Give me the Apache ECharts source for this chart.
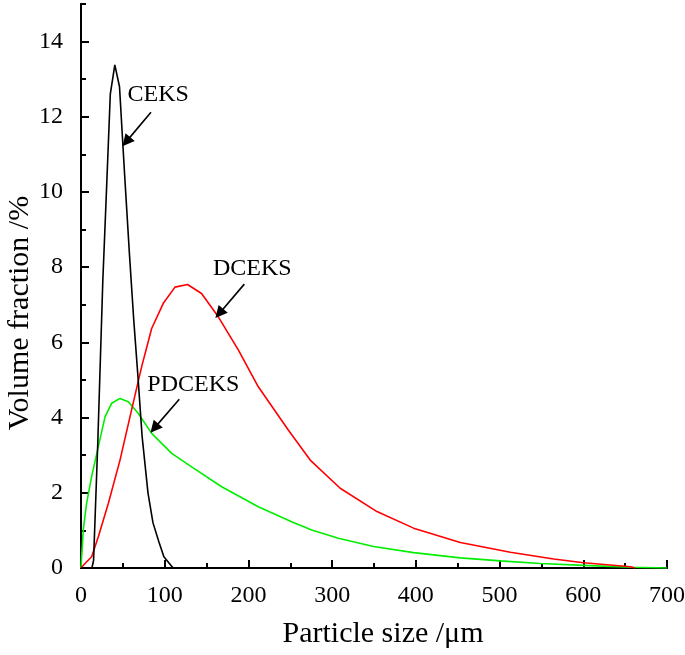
<!DOCTYPE html>
<html>
<head>
<meta charset="utf-8">
<script src="https://cdn.jsdelivr.net/npm/echarts@6/dist/echarts.min.js"></script>
<style>html,body{margin:0;padding:0;background:#fff;}#c{width:685px;height:655px;}</style>
</head>
<body>
<div id="c"></div>
<script>
// Data
const ceksX = [0, 13, 15, 20, 26, 30, 35, 40.4, 46, 52, 58, 63, 68, 73, 80, 86, 93, 99, 110];
const ceksY = [0, 0, 0.2, 3.3, 7.6, 9.8, 12.6, 13.38, 12.8, 10.5, 8.3, 6.6, 5.1, 3.5, 2.0, 1.2, 0.7, 0.3, 0];

const dceksX = [0, 4.8, 12.7, 20.7, 32.7, 46.6, 58.5, 72.4, 84.4, 98.3, 112.3, 127.3, 144, 164, 187.9, 211.8, 247.6, 273.8, 309.6, 353.5, 397.3, 453.1, 512.9, 564.6, 600.4, 656.5, 662];
const dceksY = [0, 0.12, 0.3, 0.83, 1.72, 2.87, 4.02, 5.35, 6.37, 7.04, 7.47, 7.54, 7.3, 6.68, 5.8, 4.82, 3.67, 2.87, 2.12, 1.5, 1.06, 0.68, 0.42, 0.24, 0.14, 0.035, 0];

const pdceksX = [0, 2.7, 6.7, 12.7, 20.7, 28.7, 36.6, 46.6, 56.5, 68.5, 84.4, 108.3, 132.2, 168, 211.8, 251.6, 275.5, 307.4, 349.5, 397.3, 453.1, 500.9, 548.6, 600.4, 656.5, 700];
const pdceksY = [0, 1.01, 1.72, 2.43, 3.23, 4.02, 4.38, 4.51, 4.42, 4.11, 3.58, 3.05, 2.69, 2.16, 1.63, 1.23, 1.01, 0.79, 0.57, 0.41, 0.27, 0.19, 0.12, 0.07, 0.02, 0];

const seriesNames = ['CEKS', 'DCEKS', 'PDCEKS'];
// annotation label anchor (data coords) and arrow start/end (data coords)
const labelPos = [[92.3, 12.58], [204.6, 7.97], [134.2, 4.87]];
const arrowFrom = [[83.6, 12.12], [195.1, 7.55], [117.4, 4.49]];
const arrowTo = [[54.1, 11.34], [165.2, 6.77], [87.6, 3.72]];

const xTitle = 'Particle size /\u03bcm';
const yTitle = 'Volume fraction /%';

const FONT = '"Liberation Serif", "Times New Roman", serif';
const colors = ['#000000', '#ff0000', '#00ee00'];
const xs = [ceksX, dceksX, pdceksX];
const ys = [ceksY, dceksY, pdceksY];

const chart = echarts.init(document.getElementById('c'), null, {renderer: 'canvas'});

const series = seriesNames.map((name, i) => ({
  name: name,
  type: 'line',
  data: xs[i].map((x, k) => [x, ys[i][k]]),
  showSymbol: false,
  symbol: 'none',
  lineStyle: {color: colors[i], width: 1.6},
  itemStyle: {color: colors[i]},
  silent: true,
  animation: false,
  z: 3 - i,
  markPoint: {
    symbol: 'rect', symbolSize: 1,
    itemStyle: {color: 'rgba(0,0,0,0)'},
    silent: true, animation: false,
    label: {show: true, position: 'inside', color: '#000', fontFamily: FONT, fontSize: 24, formatter: name},
    data: [{coord: labelPos[i]}]
  },
  markLine: {
    silent: true, animation: false,
    symbol: ['none', 'triangle'],
    symbolSize: 12,
    label: {show: false},
    itemStyle: {color: '#000'},
    lineStyle: {color: '#000', width: 1.6, type: 'solid'},
    data: [[{coord: arrowFrom[i]}, {coord: arrowTo[i]}]]
  }
}));

const tickStyle = {color: '#000', width: 2};

chart.setOption({
  animation: false,
  backgroundColor: '#fff',
  grid: {left: 81, right: 18, top: 4, bottom: 87, containLabel: false, outerBoundsMode: 'none'},
  xAxis: [{
    type: 'value', min: 0, max: 700, interval: 100,
    name: xTitle, nameLocation: 'middle', nameGap: 51,
    nameTextStyle: {fontFamily: FONT, fontSize: 30, color: '#000', padding: [0, 0, 0, 18]},
    axisLine: {show: true, lineStyle: {color: '#000', width: 2}},
    axisTick: {show: true, inside: true, length: 8, lineStyle: tickStyle},
    axisLabel: {fontFamily: FONT, fontSize: 24, color: '#000', margin: 16},
    splitLine: {show: false}
  }, {
    type: 'value', min: 0, max: 700, interval: 50, position: 'bottom',
    axisLine: {show: true, lineStyle: {color: '#000', width: 2}},
    axisTick: {show: true, inside: true, length: 5, lineStyle: tickStyle},
    axisLabel: {show: false},
    splitLine: {show: false}
  }],
  yAxis: [{
    type: 'value', min: 0, max: 15, interval: 2,
    name: yTitle, nameLocation: 'middle', nameGap: 46, nameMoveOverlap: false,
    nameTextStyle: {fontFamily: FONT, fontSize: 30, color: '#000', padding: [0, 54, 0, 0]},
    axisLine: {show: true, lineStyle: {color: '#000', width: 2}},
    axisTick: {show: true, inside: true, length: 8, lineStyle: tickStyle},
    axisLabel: {fontFamily: FONT, fontSize: 24, color: '#000', margin: 18, showMaxLabel: false,
      formatter: v => (v % 2 === 0 ? String(v) : '')},
    splitLine: {show: false}
  }, {
    type: 'value', min: 0, max: 15, interval: 1, position: 'left',
    axisLine: {show: true, lineStyle: {color: '#000', width: 2}},
    axisTick: {show: true, inside: true, length: 5, lineStyle: tickStyle},
    axisLabel: {show: false},
    splitLine: {show: false}
  }],
  series: series
});
</script>
</body>
</html>
